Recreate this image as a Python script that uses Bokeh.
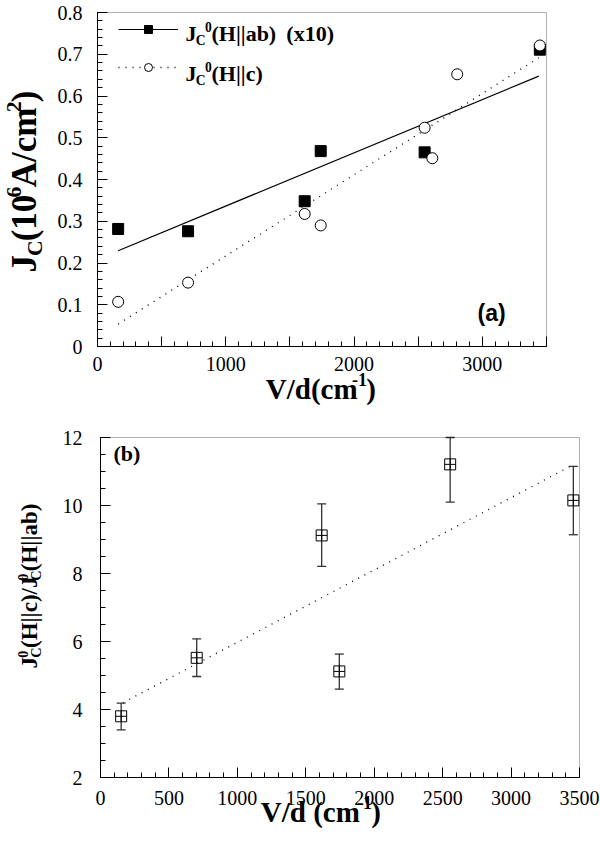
import math
from bokeh.plotting import figure
from bokeh.layouts import column
from bokeh.models import (Label, Legend, LegendItem, FixedTicker, ColumnDataSource, LinearAxis,
                          Range1d, BoxAnnotation)
from bokeh.embed import file_html
from bokeh.resources import INLINE

# ---------------- data: panel (a) ----------------
vd_ab = [161, 706, 1615, 1740, 2550, 3448]
jc_ab = [0.2815, 0.276, 0.348, 0.468, 0.465, 0.711]          # Jc0(H||ab) x10
vd_c = [161, 706, 1615, 1740, 2550, 2610, 2804, 3448]
jc_c = [0.107, 0.153, 0.3175, 0.290, 0.524, 0.451, 0.652, 0.721]  # Jc0(H||c)
fit_ab_x = [161, 3440]
fit_ab_y = [0.2295, 0.6475]
fit_c_x = [161, 3440]
fit_c_y = [0.0537, 0.6916]

# ---------------- data: panel (b) ----------------
vd_r = [151, 703, 1616, 1745, 2555, 3455]
ratio = [3.80, 5.52, 9.12, 5.12, 11.21, 10.15]
ratio_lo = [3.40, 4.97, 8.21, 4.60, 10.10, 9.14]
ratio_hi = [4.19, 6.08, 10.05, 5.63, 12.00, 11.15]
fit_r_x = [165, 3455]
fit_r_y = [4.20, 11.20]

xticks = [0, 500, 1000, 1500, 2000, 2500, 3000, 3500]
xminor = list(range(0, 3501, 100))
yticks_a = [0.0, 0.1, 0.2, 0.3, 0.4, 0.5, 0.6, 0.7, 0.8]
yminor_a = [i * 0.02 for i in range(0, 41)]
yticks_b = [2, 4, 6, 8, 10, 12]
yminor_b = [2 + i * 0.5 for i in range(0, 21)]

SERIF = "Liberation Serif"
W = {' ': .25, '(': .333, ')': .333, '/': .278, '-': .333, '|': .22, 'A': .722, 'C': .722,
     'H': .778, 'J': .5, 'V': .722, 'a': .5, 'b': .556, 'c': .444, 'd': .556, 'm': .833,
     'x': .5}


def tw(s, size):
    return sum(W.get(ch, 0.5) for ch in s) * size * 0.94


def rich(fig, pieces, x0, y0, size, angle=0.0, align="left", font=SERIF, scale=0.62):
    items = []
    pos = 0.0
    prev_start = 0.0
    for txt, kind in pieces:
        if kind == "gap":
            pos += txt
            continue
        if kind == "n":
            s, off = size, 0.0
        elif kind == "sub":
            s, off = size * scale, -0.30 * size
        else:
            s, off = size * scale, 0.30 * size
        start = prev_start if kind == "supb" else pos
        items.append((txt, s, off, start))
        end = start + tw(txt, s)
        prev_start = start
        pos = max(pos, end)
    total = pos
    shift = -total / 2 if align == "center" else 0.0
    for txt, s, off, start in items:
        p_ = start + shift
        if angle == 0:
            x, y = x0 + p_, y0 + off
        else:
            x, y = x0 - off, y0 + p_
        fig.add_layout(Label(x=x, y=y, x_units="screen", y_units="screen", text=txt,
                             angle=angle, text_font_size=f"{s:.1f}px", text_font=font,
                             text_font_style="bold", text_baseline="alphabetic",
                             text_align="left", text_color="black"))


def make_panel(W_, H_, box_l, box_r, box_t, box_b, xr, yr):
    x0, x1 = xr
    y0, y1 = yr
    sx = (x1 - x0) / (box_r - box_l)
    sy = (y1 - y0) / (box_b - box_t)
    xrange = Range1d(x0 - box_l * sx, x1 + (W_ - box_r) * sx)
    yrange = Range1d(y0 - (H_ - box_b) * sy, y1 + box_t * sy)
    p = figure(width=W_, height=H_, x_range=xrange, y_range=yrange, x_axis_type=None,
               y_axis_type=None, output_backend="svg", toolbar_location=None,
               min_border=0, min_border_left=0, min_border_right=0, min_border_top=0,
               min_border_bottom=0)
    p.outline_line_color = None
    p.xgrid.visible = False
    p.ygrid.visible = False
    p.add_layout(BoxAnnotation(left=x0, right=x1, bottom=y0, top=y1, fill_alpha=0,
                               line_color="black", line_width=1, level="overlay"))
    return p


def axis(p, side, fixed, bounds, ticks, minor, standoff, overrides=None):
    ax = LinearAxis(fixed_location=fixed, bounds=bounds,
                    ticker=FixedTicker(ticks=ticks, minor_ticks=minor))
    ax.major_tick_in = 10
    ax.major_tick_out = 0
    ax.minor_tick_in = 5
    ax.minor_tick_out = 0
    ax.major_label_text_font = SERIF
    ax.major_label_text_font_size = "20px"
    ax.major_label_text_color = "black"
    ax.major_label_standoff = standoff
    ax.axis_line_color = "black"
    ax.major_tick_line_color = "black"
    ax.minor_tick_line_color = "black"
    if overrides:
        ax.major_label_overrides = overrides
    p.add_layout(ax, side)
    return ax


# ---------------- panel (a) ----------------
HA = 415
pa = make_panel(600, HA, 97, 546, 12, 346, (0, 3500), (0, 0.8))
axis(pa, "below", 0, (0, 3500), xticks, xminor, 10, {500: "", 1500: "", 2500: "", 3500: ""})
axis(pa, "left", 0, (0, 0.8), yticks_a, yminor_a, 15, {0.0: "0"})

l_ab = pa.line(fit_ab_x, fit_ab_y, line_color="black", line_width=1.2)
l_c = pa.line(fit_c_x, fit_c_y, line_color="black", line_width=1.3, line_dash="1 6")
s_ab = pa.scatter(vd_ab, jc_ab, marker="square", size=11, fill_color="black", line_color="black")
s_c = pa.scatter(vd_c, jc_c, marker="circle", size=11, fill_color="white", line_color="black",
                 line_width=1)

leg = Legend(items=[LegendItem(label=" ", renderers=[l_ab, s_ab]),
                    LegendItem(label=" ", renderers=[l_c, s_c])],
             location=(118, 338), glyph_width=60, glyph_height=20, spacing=18, padding=0,
             margin=0, label_standoff=0, label_width=0, label_height=20,
             label_text_font_size="2px", border_line_alpha=0, background_fill_alpha=0)
pa.add_layout(leg)

rich(pa, [("J", "n"), ("C", "sub"), ("0", "sup"), ("(H||ab)", "n"), (14, "gap"), ("(x10)", "n")],
     185, HA - 33, 22)
rich(pa, [("J", "n"), ("C", "sub"), ("0", "sup"), ("(H||c)", "n")], 185, HA - 73, 22)
rich(pa, [("J", "n"), ("C", "sub"), ("(10", "n"), ("6", "sup"), ("A/cm", "n"), ("2", "sup"),
          (")", "n")], 24, HA - 272, 35, angle=math.pi / 2)
rich(pa, [("V/d(cm", "n"), ("-1", "sup"), (")", "n")], 320, HA - 388, 29, align="center")
pa.add_layout(Label(x=477, y=HA - 312, x_units="screen", y_units="screen", text="(a)",
                    text_font="Liberation Sans", text_font_style="bold",
                    text_font_size="23px", text_baseline="middle", text_color="black"))

# ---------------- panel (b) ----------------
HB = 427
TOP_B = 415
pb = make_panel(600, HB, 100, 579, 437 - TOP_B, 777 - TOP_B, (0, 3500), (2, 12))
axis(pb, "below", 2, (0, 3500), xticks, xminor, 13)
axis(pb, "left", 0, (2, 12), yticks_b, yminor_b, 18)

src_b = ColumnDataSource(dict(x=vd_r, y=ratio, lo=ratio_lo, hi=ratio_hi))
pb.line(fit_r_x, fit_r_y, line_color="black", line_width=1.3, line_dash="1 6")
pb.segment(x0="x", y0="lo", x1="x", y1="hi", source=src_b, line_color="#333333", line_width=1.3)
pb.scatter(x="x", y="lo", source=src_b, marker="dash", size=9, line_color="#333333", line_width=1.3)
pb.scatter(x="x", y="hi", source=src_b, marker="dash", size=9, line_color="#333333", line_width=1.3)
pb.scatter(x="x", y="y", source=src_b, marker="square_cross", size=11, fill_color=None,
           line_color="black", line_width=1)

rich(pb, [("J", "n"), ("C", "sub"), ("0", "supb"), ("(H||c)/J", "n"), ("C", "sub"), ("0", "supb"),
          ("(H||ab)", "n")], 29, 842 - 668, 23, angle=math.pi / 2)
rich(pb, [("V/d", "n"), (10, "gap"), ("(cm", "n"), ("-1", "sup"), (")", "n")], 320, 842 - 811, 29,
     align="center")
pb.add_layout(Label(x=113, y=842 - 453, x_units="screen", y_units="screen", text="(b)",
                    text_font=SERIF, text_font_style="bold", text_font_size="22px",
                    text_baseline="middle", text_color="black"))

layout = column(pa, pb, spacing=0)
open("out.html", "w").write(file_html(layout, INLINE))
